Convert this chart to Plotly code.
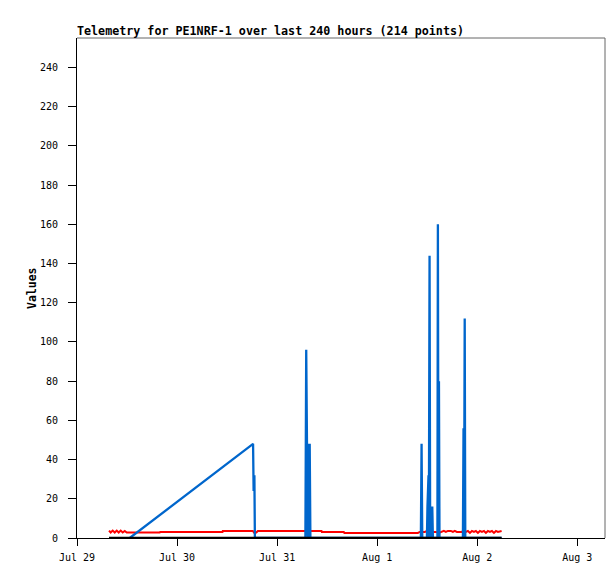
import plotly.graph_objects as go

# ---- telemetry series ----
BLUE_TIME = [
    "2024-07-29 12:39", "2024-07-30 18:14", "2024-07-30 18:22", "2024-07-30 18:33", "2024-07-30 18:40",
    "2024-07-31 06:47", "2024-07-31 06:59", "2024-07-31 07:13", "2024-07-31 07:21", "2024-07-31 07:31",
    "2024-07-31 07:39", "2024-07-31 07:49", "2024-07-31 07:59",
    "2024-08-01 10:29", "2024-08-01 10:39", "2024-08-01 10:49",
    "2024-08-01 11:56", "2024-08-01 12:04", "2024-08-01 12:19", "2024-08-01 12:24", "2024-08-01 12:34",
    "2024-08-01 12:43", "2024-08-01 12:53", "2024-08-01 13:05", "2024-08-01 13:13", "2024-08-01 13:22",
    "2024-08-01 14:27", "2024-08-01 14:34", "2024-08-01 14:42", "2024-08-01 14:49", "2024-08-01 14:57",
    "2024-08-01 20:34", "2024-08-01 20:43", "2024-08-01 20:50", "2024-08-01 21:00", "2024-08-01 21:08",
    "2024-08-02 05:51",
]
BLUE_VALUES = [
    0, 48, 24, 32, 0,
    0, 96, 48, 0, 48,
    0, 48, 0,
    0, 48, 0,
    0, 16, 32, 0, 144,
    0, 8, 0, 16, 0,
    0, 160, 0, 80, 0,
    0, 56, 0, 112, 0,
    0,
]

RED_TIME = [
    "2024-07-29 07:41", "2024-07-29 08:05", "2024-07-29 08:34", "2024-07-29 09:03", "2024-07-29 09:32",
    "2024-07-29 10:00", "2024-07-29 10:29", "2024-07-29 10:58", "2024-07-29 11:27", "2024-07-29 11:56",
    "2024-07-29 19:51", "2024-07-29 19:58", "2024-07-30 10:54", "2024-07-30 10:58", "2024-07-30 18:10",
    "2024-07-30 18:32", "2024-07-30 19:00", "2024-07-30 19:22", "2024-07-31 10:39", "2024-07-31 10:44",
    "2024-07-31 16:00", "2024-07-31 16:08", "2024-08-01 09:46", "2024-08-01 10:14", "2024-08-01 11:26",
    "2024-08-01 11:55", "2024-08-01 12:53", "2024-08-01 14:05", "2024-08-01 14:48", "2024-08-01 15:17",
    "2024-08-01 16:00", "2024-08-01 16:29", "2024-08-01 16:58", "2024-08-01 17:41", "2024-08-01 18:10",
    "2024-08-01 18:38", "2024-08-01 19:07", "2024-08-01 20:19", "2024-08-01 20:34", "2024-08-01 21:17",
    "2024-08-01 21:46", "2024-08-01 22:15", "2024-08-01 22:44", "2024-08-01 23:13", "2024-08-01 23:41",
    "2024-08-02 00:10", "2024-08-02 00:39", "2024-08-02 01:08", "2024-08-02 01:37", "2024-08-02 02:05",
    "2024-08-02 02:34", "2024-08-02 03:03", "2024-08-02 03:32", "2024-08-02 04:01", "2024-08-02 04:30",
    "2024-08-02 04:58", "2024-08-02 05:27", "2024-08-02 05:51",
]
RED_VALUES = [
    3.8, 2.8, 3.8, 2.8, 3.8,
    2.8, 3.8, 2.8, 3.6, 2.8,
    2.8, 3.1, 3.1, 3.6, 3.6,
    2.6, 2.8, 3.6, 3.6, 3.1,
    3.1, 2.6, 2.6, 3.1, 3.1,
    3.6, 3.1, 3.1, 2.6, 3.1,
    3.6, 3.1, 3.6, 3.6, 3.1,
    3.6, 3.1, 3.1, 3.6, 3.1,
    3.6, 2.6, 3.6, 3.1, 3.6,
    2.6, 3.6, 3.1, 3.6, 2.6,
    3.6, 3.1, 3.6, 2.6, 3.6,
    3.1, 3.6, 3.6,
]

BLACK_TIME = ["2024-07-29 07:41", "2024-08-02 05:51"]
BLACK_VALUES = [0, 0]

TITLE = "Telemetry for PE1NRF-1 over last 240 hours (214 points)"
X_RANGE = ["2024-07-29 00:00", "2024-08-03 06:39"]
Y_RANGE = [0, 255]

MONO = "DejaVu Sans Mono"

# the page body adds an 8px offset, so the figure is 8px smaller than the window
W, H = 607, 571
ML, MR, MT, MB = 69, 10, 30, 41
PLOT_W = W - ML - MR

fig = go.Figure()
fig.add_trace(go.Scatter(x=RED_TIME, y=RED_VALUES, mode="lines",
                         line=dict(color="#ff0000", width=2)))
fig.add_trace(go.Scatter(x=BLUE_TIME, y=BLUE_VALUES, mode="lines",
                         line=dict(color="#0066cc", width=2.3)))
fig.add_trace(go.Scatter(x=BLACK_TIME, y=BLACK_VALUES, mode="lines",
                         line=dict(color="#000000", width=2.5)))

fig.update_layout(
    width=W, height=H,
    margin=dict(l=ML, r=MR, t=MT, b=MB),
    paper_bgcolor="white", plot_bgcolor="white",
    showlegend=False,
    font=dict(family=MONO, size=10, color="#000000"),
    title=dict(text="<b>" + TITLE + "</b>", x=ML / W, xanchor="left",
               y=1 - 23 / H, yanchor="middle", yref="container",
               font=dict(family=MONO, size=11.7, color="#000000")),
    xaxis=dict(type="date", range=X_RANGE, tick0="2024-07-29", dtick=86400000,
               tickformat="%b %-d", ticks="outside", ticklen=7, tickcolor="#000000",
               showline=True, linecolor="#000000", linewidth=1,
               showgrid=False, zeroline=False, ticklabelstandoff=3),
    yaxis=dict(range=Y_RANGE, tick0=0, dtick=20, ticks="outside", ticklen=8,
               tickcolor="#000000", showline=True, linecolor="#000000", linewidth=1,
               showgrid=False, zeroline=False, ticklabelstandoff=8),
    annotations=[dict(text="<b>Values</b>", xref="paper", yref="paper",
                      x=(24 - ML) / PLOT_W, y=0.5, xanchor="center", yanchor="middle",
                      textangle=-90, showarrow=False,
                      font=dict(family=MONO, size=11.5, color="#000000"))],
    shapes=[
        dict(type="line", xref="paper", yref="paper", x0=0, x1=1, y0=1, y1=1,
             line=dict(color="#666666", width=1)),
        dict(type="line", xref="paper", yref="paper", x0=1, x1=1, y0=0, y1=1,
             line=dict(color="#666666", width=1)),
    ],
)

fig.write_html("out.html", config={"displayModeBar": False})
